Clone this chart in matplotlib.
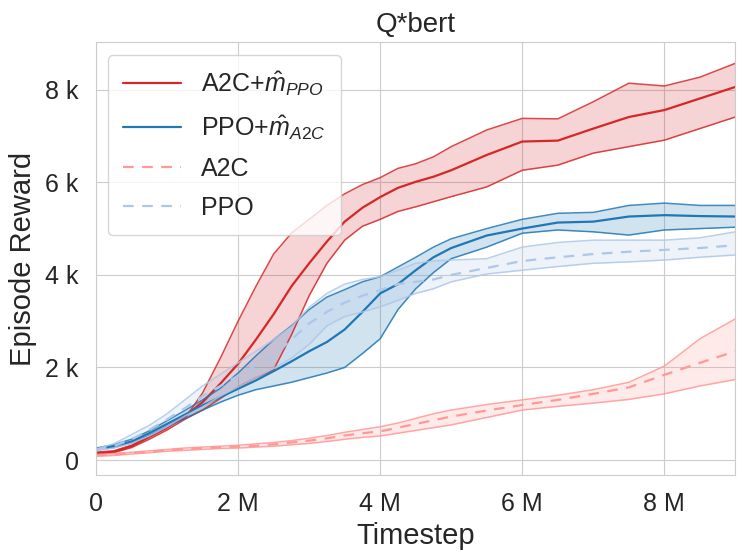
import matplotlib
matplotlib.use("Agg")
import matplotlib.pyplot as plt
from matplotlib.ticker import FuncFormatter
import seaborn as sns

# timestep in millions, reward in thousands
steps = [0, 0.25, 0.5, 0.75, 1.0, 1.25, 1.5, 1.75, 2.0, 2.25, 2.5, 2.75, 3.0, 3.25,
         3.5, 3.75, 4.0, 4.25, 4.5, 4.75, 5.0, 5.5, 6.0, 6.5, 7.0, 7.5, 8.0, 8.5, 9.0]

a2c_m_mean = [0.15, 0.18, 0.3, 0.5, 0.7, 0.95, 1.25, 1.65, 2.08, 2.6, 3.15, 3.75, 4.25, 4.72,
              5.15, 5.45, 5.68, 5.88, 6.01, 6.12, 6.26, 6.59, 6.88, 6.9, 7.16, 7.41, 7.56, 7.81, 8.06]
a2c_m_hi = [0.17, 0.2, 0.32, 0.52, 0.72, 0.9, 1.45, 2.2, 3.0, 3.75, 4.45, 4.9, 5.2, 5.5,
            5.75, 5.95, 6.1, 6.3, 6.4, 6.55, 6.77, 7.13, 7.38, 7.37, 7.74, 8.14, 8.08, 8.27, 8.57]
a2c_m_lo = [0.13, 0.16, 0.27, 0.45, 0.65, 0.88, 1.08, 1.33, 1.58, 1.78, 1.95, 2.7, 3.55, 4.25,
            4.75, 5.05, 5.2, 5.37, 5.47, 5.58, 5.69, 5.9, 6.26, 6.37, 6.63, 6.77, 6.91, 7.16, 7.41]

ppo_m_mean = [0.24, 0.3, 0.4, 0.58, 0.78, 0.98, 1.18, 1.36, 1.54, 1.72, 1.92, 2.13, 2.35, 2.55,
              2.82, 3.2, 3.6, 3.8, 4.1, 4.38, 4.58, 4.85, 5.0, 5.13, 5.15, 5.26, 5.29, 5.27, 5.26]
ppo_m_hi = [0.26, 0.33, 0.45, 0.63, 0.85, 1.07, 1.3, 1.55, 1.88, 2.25, 2.6, 2.9, 3.25, 3.52,
            3.68, 3.85, 3.96, 4.17, 4.38, 4.6, 4.78, 5.0, 5.2, 5.33, 5.35, 5.5, 5.55, 5.5, 5.5]
ppo_m_lo = [0.22, 0.27, 0.37, 0.53, 0.72, 0.9, 1.08, 1.25, 1.4, 1.52, 1.6, 1.68, 1.78, 1.88,
            2.0, 2.3, 2.62, 3.25, 3.7, 4.05, 4.35, 4.6, 4.9, 4.97, 4.93, 4.86, 4.97, 5.0, 5.03]

a2c_mean = [0.1, 0.12, 0.15, 0.18, 0.21, 0.24, 0.26, 0.28, 0.29, 0.31, 0.34, 0.38, 0.42, 0.47,
            0.53, 0.58, 0.62, 0.7, 0.78, 0.86, 0.94, 1.07, 1.19, 1.3, 1.43, 1.57, 1.84, 2.1, 2.35]
a2c_hi = [0.12, 0.14, 0.17, 0.2, 0.23, 0.26, 0.28, 0.3, 0.32, 0.35, 0.38, 0.42, 0.47, 0.53,
          0.6, 0.66, 0.72, 0.8, 0.9, 1.0, 1.08, 1.2, 1.3, 1.4, 1.52, 1.68, 2.03, 2.62, 3.05]
a2c_lo = [0.08, 0.1, 0.13, 0.16, 0.19, 0.21, 0.23, 0.25, 0.26, 0.28, 0.3, 0.33, 0.36, 0.4,
          0.45, 0.49, 0.52, 0.58, 0.64, 0.7, 0.76, 0.92, 1.08, 1.16, 1.23, 1.31, 1.43, 1.6, 1.74]

ppo_mean = [0.22, 0.3, 0.45, 0.65, 0.88, 1.12, 1.38, 1.6, 1.82, 2.05, 2.25, 2.6, 2.95, 3.2,
            3.4, 3.55, 3.67, 3.8, 3.85, 3.9, 4.0, 4.15, 4.3, 4.38, 4.45, 4.5, 4.54, 4.58, 4.64]
ppo_hi = [0.24, 0.35, 0.55, 0.75, 1.0, 1.3, 1.6, 1.85, 2.1, 2.35, 2.6, 2.88, 3.3, 3.6,
          3.8, 3.9, 3.96, 4.1, 4.25, 4.3, 4.32, 4.35, 4.6, 4.7, 4.75, 4.75, 4.75, 4.8, 4.93]
ppo_lo = [0.2, 0.26, 0.36, 0.52, 0.72, 0.95, 1.15, 1.38, 1.58, 1.78, 1.98, 2.2, 2.5, 2.9,
          3.1, 3.2, 3.31, 3.45, 3.6, 3.7, 3.85, 4.02, 4.1, 4.18, 4.25, 4.28, 4.32, 4.38, 4.43]

labels = [r"A2C+$\hat{m}_{PPO}$", r"PPO+$\hat{m}_{A2C}$", "A2C", "PPO"]
colors = ["#d62728", "#1f77b4", "#ff9896", "#aec7e8"]

sns.set_style("whitegrid")
plt.rcParams["font.family"] = ["Liberation Sans", "DejaVu Sans"]
plt.rcParams["mathtext.fontset"] = "custom"
plt.rcParams["mathtext.rm"] = "Liberation Sans"
plt.rcParams["mathtext.it"] = "Liberation Sans:italic"

fig = plt.figure(figsize=(7.47, 5.6), dpi=100)
ax = fig.add_axes([0.1285, 0.152, 0.856, 0.773])

series = [
    (a2c_m_mean, a2c_m_lo, a2c_m_hi, "-"),
    (ppo_m_mean, ppo_m_lo, ppo_m_hi, "-"),
    (a2c_mean, a2c_lo, a2c_hi, (0, (4.8, 3.8))),
    (ppo_mean, ppo_lo, ppo_hi, (0, (4.8, 3.8))),
]
for (mean, lo, hi, ls), lab, c in zip(series, labels, colors):
    ax.fill_between(steps, lo, hi, color=c, alpha=0.2, lw=0)
    ax.plot(steps, lo, color=c, lw=1.1, alpha=0.85)
    ax.plot(steps, hi, color=c, lw=1.1, alpha=0.85)
    ax.plot(steps, mean, color=c, lw=1.6, ls=ls, label=lab)

ax.set_xlim(0, 9.0)
ax.set_ylim(-0.32, 9.03)
ax.set_xticks([0, 2, 4, 6, 8])
ax.set_yticks([0, 2, 4, 6, 8])
ax.xaxis.set_major_formatter(FuncFormatter(lambda v, _: "0" if v == 0 else f"{v:g} M"))
ax.yaxis.set_major_formatter(FuncFormatter(lambda v, _: "0" if v == 0 else f"{v:g} k"))
ax.tick_params(labelsize=18, colors="#262626", pad=9)
ax.set_xlabel("Timestep", fontsize=21, labelpad=4)
ax.set_ylabel("Episode Reward", fontsize=21, labelpad=6)
ax.set_title("Q*bert", fontsize=20, pad=7)

ax.legend(loc="upper left", fontsize=18, handlelength=2.3, handletextpad=0.8,
          labelspacing=0.6, borderpad=0.6,
          frameon=True, fancybox=True, edgecolor="0.8", framealpha=0.8)

fig.savefig("out.png", dpi=100)
